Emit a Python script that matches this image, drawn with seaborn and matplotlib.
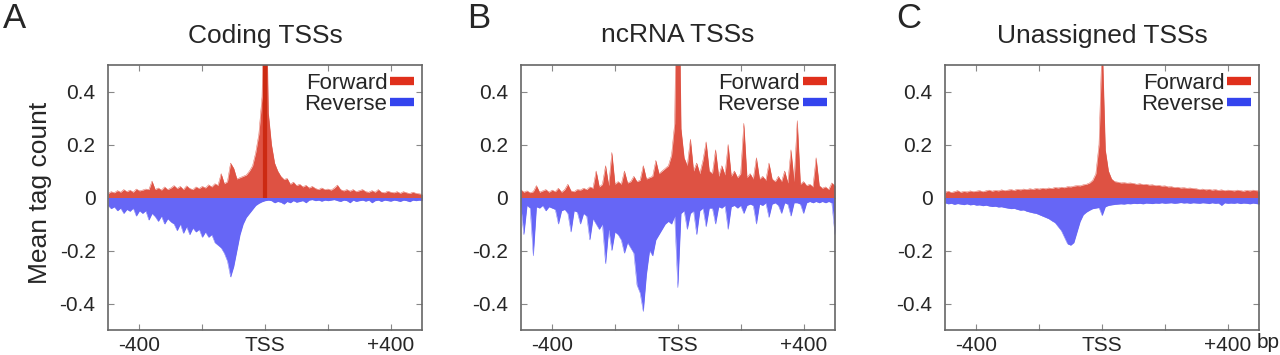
import numpy as np
import pandas as pd
import matplotlib
matplotlib.use("Agg")
import matplotlib.pyplot as plt
from matplotlib.lines import Line2D
import seaborn as sns

sns.set_theme(style="ticks")
plt.rcParams['font.family'] = ['Liberation Sans', 'DejaVu Sans']

# distance from TSS (bp), 10 bp bins
positions = np.arange(-500, 501, 10)

coding_fwd = [
    0.015, 0.022, 0.018, 0.026, 0.02, 0.03, 0.022, 0.028, 0.02, 0.032, 0.025,
    0.028, 0.032, 0.03, 0.062, 0.03, 0.036, 0.028, 0.04, 0.03, 0.036,
    0.045, 0.034, 0.042, 0.03, 0.044, 0.034, 0.03, 0.04, 0.034, 0.042,
    0.036, 0.048, 0.04, 0.052, 0.046, 0.09, 0.052, 0.06, 0.13, 0.11,
    0.07, 0.075, 0.08, 0.085, 0.1, 0.12, 0.17, 0.24, 0.38, 1.0,
    0.32, 0.2, 0.13, 0.1, 0.08, 0.068, 0.072, 0.05, 0.058, 0.045,
    0.05, 0.04, 0.046, 0.036, 0.042, 0.034, 0.03, 0.036, 0.03, 0.032,
    0.028, 0.036, 0.047, 0.03, 0.025, 0.03, 0.024, 0.03, 0.022, 0.026,
    0.03, 0.022, 0.02, 0.026, 0.02, 0.03, 0.02, 0.018, 0.024, 0.02,
    0.018, 0.022, 0.016, 0.022, 0.018, 0.015, 0.02, 0.016, 0.014, 0.012,
]
coding_rev = [
    -0.03, -0.042, -0.035, -0.05, -0.04, -0.06, -0.045, -0.052, -0.04, -0.07, -0.05,
    -0.06, -0.05, -0.085, -0.06, -0.072, -0.09, -0.07, -0.1, -0.08, -0.092,
    -0.1, -0.125, -0.1, -0.135, -0.11, -0.14, -0.115, -0.13, -0.12, -0.15,
    -0.13, -0.15, -0.14, -0.17, -0.18, -0.19, -0.21, -0.24, -0.3, -0.26,
    -0.2, -0.14, -0.1, -0.075, -0.06, -0.045, -0.03, -0.022, -0.016, -0.012,
    -0.01, -0.012, -0.02, -0.015, -0.018, -0.025, -0.015, -0.02, -0.012, -0.018,
    -0.015, -0.012, -0.02, -0.01, -0.008, -0.012, -0.01, -0.014, -0.01, -0.012,
    -0.01, -0.008, -0.012, -0.015, -0.01, -0.012, -0.02, -0.01, -0.015, -0.012,
    -0.01, -0.014, -0.01, -0.02, -0.012, -0.01, -0.015, -0.01, -0.012, -0.014,
    -0.01, -0.012, -0.015, -0.01, -0.012, -0.016, -0.01, -0.012, -0.01, -0.012,
]

ncrna_fwd = [
    0.03, 0.02, 0.025, 0.018, 0.022, 0.045, 0.02, 0.025, 0.03, 0.02, 0.028,
    0.022, 0.035, 0.02, 0.03, 0.05, 0.025, 0.022, 0.03, 0.028, 0.035,
    0.03, 0.04, 0.035, 0.1, 0.04, 0.05, 0.12, 0.045, 0.17, 0.05,
    0.06, 0.05, 0.1, 0.055, 0.06, 0.08, 0.06, 0.065, 0.12, 0.07,
    0.075, 0.08, 0.14, 0.09, 0.1, 0.11, 0.12, 0.16, 0.28, 1.2,
    0.26, 0.15, 0.12, 0.22, 0.1, 0.13, 0.09, 0.14, 0.21, 0.1,
    0.09, 0.18, 0.08, 0.12, 0.085, 0.2, 0.08, 0.1, 0.075, 0.09,
    0.28, 0.075, 0.09, 0.07, 0.15, 0.07, 0.08, 0.065, 0.13, 0.07,
    0.06, 0.08, 0.06, 0.1, 0.055, 0.18, 0.06, 0.29, 0.05, 0.06,
    0.045, 0.05, 0.04, 0.15, 0.045, 0.035, 0.04, 0.03, 0.055, 0.045,
]
ncrna_rev = [
    -0.03, -0.14, -0.03, -0.04, -0.22, -0.035, -0.04, -0.03, -0.05, -0.035, -0.04,
    -0.045, -0.1, -0.05, -0.045, -0.06, -0.13, -0.05, -0.055, -0.1, -0.06,
    -0.07, -0.16, -0.08, -0.1, -0.12, -0.1, -0.25, -0.12, -0.2, -0.13,
    -0.14, -0.16, -0.21, -0.17, -0.19, -0.21, -0.33, -0.36, -0.43, -0.29,
    -0.2, -0.22, -0.16, -0.14, -0.12, -0.1, -0.09, -0.1, -0.07, -0.34,
    -0.06, -0.05, -0.12, -0.06, -0.05, -0.14, -0.05, -0.04, -0.11, -0.04,
    -0.04, -0.1, -0.035, -0.04, -0.03, -0.12, -0.035, -0.03, -0.04, -0.03,
    -0.06, -0.03, -0.025, -0.03, -0.1, -0.025, -0.03, -0.02, -0.075, -0.025,
    -0.02, -0.03, -0.06, -0.02, -0.025, -0.07, -0.02, -0.02, -0.025, -0.06,
    -0.02, -0.015, -0.02, -0.015, -0.02, -0.015, -0.02, -0.015, -0.02, -0.14,
]

unassigned_fwd = [
    0.02, 0.024, 0.019, 0.022, 0.026, 0.02, 0.023, 0.021, 0.025, 0.022, 0.024,
    0.026, 0.022, 0.025, 0.028, 0.024, 0.027, 0.025, 0.029, 0.026, 0.028,
    0.03, 0.027, 0.031, 0.029, 0.032, 0.03, 0.033, 0.031, 0.034, 0.032,
    0.035, 0.033, 0.036, 0.034, 0.038, 0.036, 0.039, 0.037, 0.041, 0.04,
    0.043, 0.045, 0.044, 0.048, 0.05, 0.055, 0.065, 0.09, 0.2, 0.6,
    0.18, 0.1, 0.07, 0.06, 0.058, 0.055, 0.056, 0.054, 0.055, 0.053,
    0.05, 0.052, 0.049, 0.05, 0.047, 0.048, 0.045, 0.046, 0.043, 0.044,
    0.04, 0.041, 0.038, 0.039, 0.036, 0.037, 0.035, 0.036, 0.034, 0.033,
    0.03, 0.032, 0.029, 0.031, 0.028, 0.03, 0.027, 0.029, 0.026, 0.028,
    0.027, 0.025, 0.028, 0.026, 0.024, 0.027, 0.025, 0.028, 0.026, 0.025,
]
unassigned_rev = [
    -0.02, -0.024, -0.022, -0.026, -0.023, -0.025, -0.027, -0.024, -0.028, -0.026, -0.029,
    -0.028, -0.031, -0.029, -0.032, -0.034, -0.033, -0.036, -0.035, -0.038, -0.04,
    -0.042, -0.041, -0.045, -0.048, -0.047, -0.052, -0.055, -0.058, -0.06, -0.065,
    -0.07, -0.075, -0.08, -0.088, -0.095, -0.11, -0.125, -0.15, -0.175, -0.18,
    -0.17, -0.13, -0.09, -0.065, -0.055, -0.048, -0.042, -0.04, -0.038, -0.068,
    -0.035, -0.03, -0.028, -0.026, -0.025, -0.024, -0.025, -0.023, -0.024, -0.022,
    -0.023, -0.022, -0.024, -0.021, -0.022, -0.023, -0.021, -0.022, -0.02, -0.022,
    -0.021, -0.02, -0.022, -0.021, -0.019, -0.021, -0.02, -0.022, -0.02, -0.021,
    -0.022, -0.02, -0.021, -0.023, -0.02, -0.022, -0.021, -0.03, -0.02, -0.022,
    -0.021, -0.022, -0.02, -0.023, -0.021, -0.022, -0.024, -0.021, -0.023, -0.025,
]

panel_letters = ["A", "B", "C"]
panel_titles = ["Coding TSSs", "ncRNA TSSs", "Unassigned TSSs"]
series = [(coding_fwd, coding_rev), (ncrna_fwd, ncrna_rev), (unassigned_fwd, unassigned_rev)]
xtick_vals = [-400, 0, 400]
xtick_labels = ["-400", "TSS", "+400"]
ytick_vals = [0.4, 0.2, 0, -0.2, -0.4]
ytick_labels = ["0.4", "0.2", "0", "-0.2", "-0.4"]

fwd_fill = "#de5243"
rev_fill = "#6666f6"
fwd_key = "#e0301c"
rev_key = "#3444ee"
spine_col = "#666666"

fig = plt.figure(figsize=(12.8, 3.55), dpi=100)
lefts = [0.0844, 0.4068, 0.7383]
letter_x = [0.002, 0.365, 0.700]

for i, (fwd, rev) in enumerate(series):
    ax = fig.add_axes([lefts[i], 0.0704, 0.2455, 0.7465])
    df = pd.DataFrame({"pos": positions, "Forward": fwd, "Reverse": rev})

    ax.fill_between(df["pos"], 0, df["Forward"], color=fwd_fill, lw=0)
    ax.fill_between(df["pos"], 0, df["Reverse"], color=rev_fill, lw=0)
    sns.lineplot(data=df, x="pos", y="Forward", ax=ax, color=fwd_fill, lw=0.3)
    sns.lineplot(data=df, x="pos", y="Reverse", ax=ax, color=rev_fill, lw=0.3)

    if i == 0:
        # strong single-position signal at the TSS
        top = df.loc[df["Forward"].idxmax()]
        ax.vlines(top["pos"], 0, top["Forward"], color="#cc2a12", lw=3)

    ax.set_xlim(-500, 500)
    ax.set_ylim(-0.5, 0.5)
    ax.set_xticks(xtick_vals)
    ax.set_xticklabels(xtick_labels)
    ax.set_xticks([-200, 200], minor=True)
    ax.set_yticks(ytick_vals)
    ax.set_yticklabels(ytick_labels)
    ax.set_xlabel("")
    ax.set_ylabel("")
    ax.tick_params(which="both", direction="in", top=True, right=True,
                   length=4, width=0.8, color="#888888", labelsize=15)
    ax.tick_params(axis="y", pad=9)
    ax.tick_params(axis="x", pad=4)
    for sp in ax.spines.values():
        sp.set_color(spine_col)
        sp.set_linewidth(1.2)

    handles = [Line2D([0], [0], color=fwd_key, lw=6, solid_capstyle="butt"),
               Line2D([0], [0], color=rev_key, lw=6, solid_capstyle="butt")]
    ax.legend(handles, ["Forward", "Reverse"], loc="upper right", markerfirst=False,
              frameon=False, fontsize=16, handlelength=1.1, handletextpad=0.12,
              labelspacing=0.0, borderaxespad=0.15, borderpad=0.2)

    cx = lefts[i] + 0.2455 / 2
    fig.text(cx, 0.90, panel_titles[i], ha="center", va="center", fontsize=19)
    fig.text(letter_x[i], 0.995, panel_letters[i], ha="left", va="top", fontsize=25)

fig.text(40 / 1280, 0.456, "Mean tag count", rotation=90, ha="center", va="center", fontsize=19)
fig.text(1268 / 1280, 0.035, "bp", ha="center", va="center", fontsize=15)

fig.savefig("out.png", dpi=100)
